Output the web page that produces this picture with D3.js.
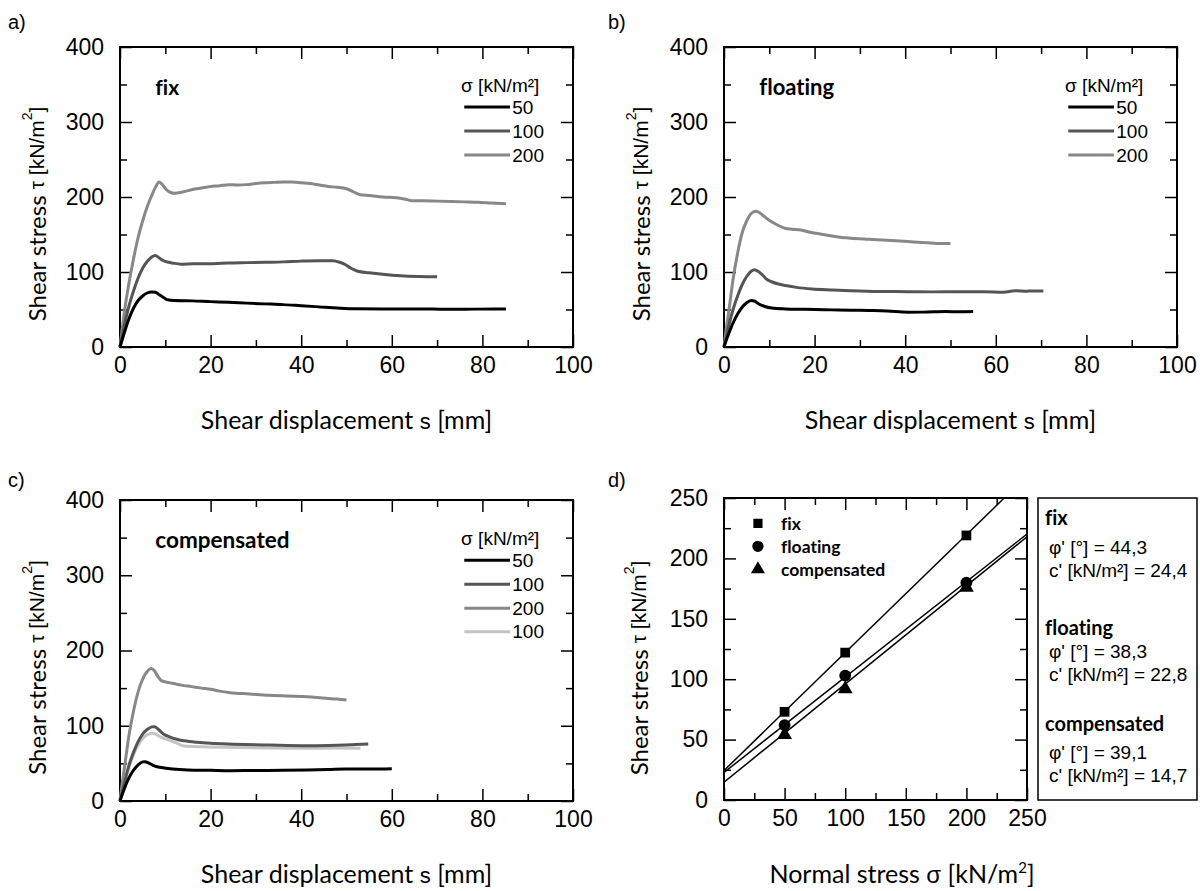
<!DOCTYPE html>
<html>
<head>
<meta charset="utf-8">
<script src="https://cdn.jsdelivr.net/npm/d3@7"></script>
<style>
  body { margin: 0; background: #fff; }
  svg { display: block; }
  text { font-variant-ligatures: none; }
  .tick line { stroke: #000; stroke-width: 1.5; }
  .domain { display: none; }
</style>
</head>
<body>
<div id="chart"></div>
<script>
// shear curves, [displacement mm, shear stress kN/m2]
var fix50 = [[0,0],[0.5,10],[1,20],[2,38],[3,52],[4,62],[5,68],[6,72],[7,73.5],[7.8,73],[8.6,70],[9.6,66],[10.5,63],[12,62],[16,61.5],[20,60.5],[24,59.7],[28,58.5],[32,57.5],[36,56.5],[40,55],[44,53.5],[48,52],[52,51],[58,50.8],[66,50.8],[72,50.3],[78,50.5],[85.2,50.8]];
var fix100 = [[0,0],[0.5,16],[1,30],[2,55],[3,75],[4,92],[5,105],[6,114],[7,120],[7.8,122],[8.6,119],[9.6,115],[10.8,113],[12,111.5],[13.5,110.5],[16,111],[20,111],[24,112],[28,112.5],[32,113],[36,113.5],[40,114.5],[44,115],[47,115],[48.5,113],[49.7,110],[51,105],[52.5,101],[55,99],[58,97],[62,95],[66,94],[70,93.5]];
var fix200 = [[0,0],[0.5,25],[1,48],[2,86],[3,118],[4,146],[5,168],[6,187],[7,202],[8,215],[8.6,220],[9.3,217],[10.2,210],[11.2,206],[12,205],[14,207],[16,210],[18,212],[20,214],[22,215],[24,216.5],[26,216],[28,216.5],[30,218],[32,219],[34,219.5],[36,220],[38,220],[40,219],[42,218],[44,216],[46,214],[48,213],[50,211],[51.5,207],[53,203],[55,202],[58,200],[61,199],[63,197],[64.5,195],[67,195],[70,194.5],[73,194],[76,193.5],[79,193],[82,192],[85.2,191]];

var float50 = [[0,0],[0.5,9],[1,17],[2,32],[3,44],[4,53],[5,59],[6,62],[6.8,61],[7.8,57],[9,54],[10.5,52],[13.6,50.8],[18,50.2],[23.8,49.5],[28,49],[32.2,48.6],[36,48],[40.6,46.4],[44,46.5],[49,47.3],[52,47],[55,47.3]];
var float100 = [[0,0],[0.5,14],[1,27],[2,50],[3,68],[4,83],[5,94],[6,101],[6.7,103],[7.5,101],[8.5,96],[9.5,90],[10.5,87],[12,84],[13.6,82],[16,79.5],[19.5,77.3],[24,76],[28,75],[34,74],[40.6,73.8],[46,73.5],[52,73.8],[57.5,73.8],[61.7,73],[64.2,75],[67,74.5],[70.5,74.7]];
var float200 = [[0,0],[0.5,24],[1,45],[2,90],[3,125],[4,152],[5,168],[6,178],[7,181],[7.6,180],[8.5,176],[9.5,171],[10.8,166],[12,162],[13.6,158],[15,157],[17,156],[19,153],[21,151],[23.8,148],[26,146],[28,145],[32,143.6],[36,142.3],[40.6,140.6],[44.8,139],[47,138],[50,138]];

var comp50 = [[0,0],[0.5,9],[1,17],[2,31],[3,41],[4,48],[5,52],[5.5,52.3],[6.5,50],[7.3,47.5],[8.2,45.6],[9.8,43.8],[11.6,42.5],[15,41.3],[20,40.8],[24.3,40.3],[30,40.6],[36,40.8],[41.3,41.2],[46,41.8],[49.7,42.5],[55,42.5],[60,43]];
var comp100 = [[0,0],[0.5,13],[1,25],[2,48],[3,65],[4,79],[5,89],[6,95],[7,98.5],[7.6,98.8],[8.5,95],[9.6,89],[10.8,85.5],[12.5,82],[14.2,80],[17,78],[20,76.6],[25,75.5],[32.8,74.4],[41.3,73.5],[46,73.8],[49.7,74.4],[52,75],[54.8,75.7]];
var comp200 = [[0,0],[0.5,24],[1,45],[2,88],[3,120],[4,145],[5,162],[6,172],[6.9,176],[7.6,173],[8.3,166],[9.1,160],[10.2,158],[11.6,156.4],[13.5,154],[15.8,152],[18,150],[20,148.4],[22,146],[24.3,144],[28.6,142.2],[32.8,140.4],[37,139.5],[41.3,138.6],[45.5,136.4],[48,135.5],[50,134.2]];
var comp100b = [[0,0],[0.5,12],[1,24],[2,45],[3,62],[4,74],[5,83],[6,88],[7,90],[7.8,89],[9,85],[10.8,81],[12.5,77],[14.2,73],[18,72],[24.3,71.3],[32,70.5],[41.3,70],[47,70.3],[53.1,70]];

// failure envelope (panel d)
var normalStress = [50, 100, 200];
var fixPeak = [73, 122, 219];
var floatPeak = [62, 103, 180];
var compPeak = [54, 92, 176];
var fixLine = [[0,24.4],[231.2,250]];
var floatLine = [[0,22.8],[250,220.2]];
var compLine = [[0,14.7],[250,217.9]];

var boxNames = ["fix", "floating", "compensated"];
var phiValues = ["44,3", "38,3", "39,1"];
var cValues = ["24,4", "22,8", "14,7"];

var sTicks = [0, 20, 40, 60, 80, 100];
var sMinor = [10, 30, 50, 70, 90];
var tauTicks = [0, 100, 200, 300, 400];
var tauMinor = [50, 150, 250, 350];
var dTicks = [0, 50, 100, 150, 200, 250];
var dMinor = [25, 75, 125, 175, 225];

var black = "#000", dark = "#555", mid = "#888", light = "#c4c4c4";

var width = 1200, height = 891;
var svg = d3.select("#chart").append("svg")
    .attr("width", width)
    .attr("height", height);

var sans = "Lato, 'Open Sans', sans-serif";
var arial = "'Liberation Sans', Arial, Helvetica, sans-serif";

function tickText(sel) {
    sel.selectAll("text")
      .style("font-family", arial)
      .style("font-size", "23px")
      .style("fill", "#000");
}

// draws the boxed frame with inward ticks on all four sides
function frame(box, x, y, xt, xm, yt, ym) {
    var g = svg.append("g");
    var bottom = box.y1, top = box.y0, left = box.x0, right = box.x1;

    g.append("g").attr("transform", "translate(0," + bottom + ")")
      .call(d3.axisBottom(x).tickValues(xt).tickSize(-12).tickPadding(10).tickFormat(d3.format("d")))
      .call(tickText);
    g.append("g").attr("transform", "translate(0," + bottom + ")")
      .call(d3.axisBottom(x).tickValues(xm).tickSize(-7).tickFormat(""));
    g.append("g").attr("transform", "translate(0," + top + ")")
      .call(d3.axisTop(x).tickValues(xt).tickSize(-12).tickFormat(""));
    g.append("g").attr("transform", "translate(0," + top + ")")
      .call(d3.axisTop(x).tickValues(xm).tickSize(-7).tickFormat(""));

    g.append("g").attr("transform", "translate(" + left + ",0)")
      .call(d3.axisLeft(y).tickValues(yt).tickSize(-12).tickPadding(16).tickFormat(d3.format("d")))
      .call(tickText);
    g.append("g").attr("transform", "translate(" + left + ",0)")
      .call(d3.axisLeft(y).tickValues(ym).tickSize(-7).tickFormat(""));
    g.append("g").attr("transform", "translate(" + right + ",0)")
      .call(d3.axisRight(y).tickValues(yt).tickSize(-12).tickFormat(""));
    g.append("g").attr("transform", "translate(" + right + ",0)")
      .call(d3.axisRight(y).tickValues(ym).tickSize(-7).tickFormat(""));

    g.append("rect")
      .attr("x", left).attr("y", top)
      .attr("width", right - left).attr("height", bottom - top)
      .attr("fill", "none").attr("stroke", black).attr("stroke-width", 2);
}

function yTitle(cx, cy) {
    var t = svg.append("text")
      .attr("transform", "translate(" + cx + "," + cy + ") rotate(-90)")
      .attr("text-anchor", "middle")
      .attr("dominant-baseline", "central");
    t.append("tspan").attr("font-family", sans).attr("font-size", 24).text("Shear stress  ");
    t.append("tspan").attr("font-family", arial).attr("font-size", 21).text("\u03c4 [kN/m");
    t.append("tspan").attr("font-family", arial).attr("font-size", 14).attr("dy", -9).text("2");
    t.append("tspan").attr("font-family", arial).attr("font-size", 21).attr("dy", 9).text("]");
}

function xTitle(cx, by, parts) {
    var t = svg.append("text")
      .attr("x", cx).attr("y", by)
      .attr("text-anchor", "middle");
    parts.forEach(function(p) {
        var s = t.append("tspan").attr("font-family", p.f).attr("font-size", p.s).text(p.t);
        if (p.dy) s.attr("dy", p.dy);
    });
}

function label(txt, x, y) {
    svg.append("text").attr("x", x).attr("y", y)
      .attr("font-family", arial).attr("font-size", 20).text(txt);
}

var line = d3.line().curve(d3.curveMonotoneX);

// shear curve panels a, b, c
function shearPanel(box, name, nameSize, series, colors, legendVals, legendColors) {
    var x = d3.scaleLinear().domain([0, 100]).range([box.x0, box.x1]);
    var y = d3.scaleLinear().domain([0, 400]).range([box.y1, box.y0]);

    frame(box, x, y, sTicks, sMinor, tauTicks, tauMinor);

    line.x(function(d){ return x(d[0]); }).y(function(d){ return y(d[1]); });

    svg.append("g").selectAll("path")
      .data(series)
      .enter().append("path")
        .attr("d", function(d){ return line(d); })
        .attr("fill", "none")
        .attr("stroke", function(d, i){ return colors[i]; })
        .attr("stroke-width", 3)
        .attr("stroke-linejoin", "round");

    svg.append("text")
      .attr("x", x(7.8)).attr("y", y(347))
      .attr("dominant-baseline", "central")
      .attr("font-family", sans).attr("font-weight", "bold")
      .attr("font-size", nameSize)
      .text(name);

    // legend
    svg.append("text")
      .attr("x", x(75.3)).attr("y", y(349))
      .attr("dominant-baseline", "central")
      .attr("font-family", arial).attr("font-size", 19)
      .text("\u03c3 [kN/m\u00b2]");

    var rows = [320, 288, 256, 225];
    var lg = svg.append("g").selectAll("g")
      .data(legendVals)
      .enter().append("g");
    lg.append("line")
      .attr("x1", x(76)).attr("x2", x(86.1))
      .attr("y1", function(d, i){ return y(rows[i]); })
      .attr("y2", function(d, i){ return y(rows[i]); })
      .attr("stroke", function(d, i){ return legendColors[i]; })
      .attr("stroke-width", 3);
    lg.append("text")
      .attr("x", x(86.6))
      .attr("y", function(d, i){ return y(rows[i]); })
      .attr("dominant-baseline", "central")
      .attr("font-family", arial).attr("font-size", 19)
      .text(function(d){ return d; });

    yTitle(box.x0 - 84, (box.y0 + box.y1) / 2 + 17);
    xTitle((box.x0 + box.x1) / 2, box.y1 + 82, [
        {f: sans, s: 25, t: "Shear displacement "},
        {f: arial, s: 22, t: "s"},
        {f: sans, s: 25, t: " [mm]"}
    ]);
}

var boxA = {x0: 120, x1: 573, y0: 47, y1: 347};
var boxB = {x0: 724, x1: 1177, y0: 47, y1: 347};
var boxC = {x0: 120, x1: 573, y0: 500, y1: 801};
var boxD = {x0: 724, x1: 1027, y0: 498, y1: 800};

shearPanel(boxA, "fix", 21, [fix200, fix100, fix50], [mid, dark, black], [50, 100, 200], [black, dark, mid]);
shearPanel(boxB, "floating", 22, [float200, float100, float50], [mid, dark, black], [50, 100, 200], [black, dark, mid]);
shearPanel(boxC, "compensated", 22.5, [comp200, comp100b, comp100, comp50], [mid, light, dark, black],
    [50, 100, 200, 100], [black, dark, mid, light]);

label("a)", 8, 29);
label("b)", 608, 29);
label("c)", 8, 487);
label("d)", 608, 487);

// panel d - failure envelopes
var xd = d3.scaleLinear().domain([0, 250]).range([boxD.x0, boxD.x1]);
var yd = d3.scaleLinear().domain([0, 250]).range([boxD.y1, boxD.y0]);

frame(boxD, xd, yd, dTicks, dMinor, dTicks, dMinor);

svg.append("clipPath").attr("id", "clipD")
  .append("rect")
    .attr("x", boxD.x0).attr("y", boxD.y0)
    .attr("width", boxD.x1 - boxD.x0).attr("height", boxD.y1 - boxD.y0);

var straight = d3.line().x(function(d){ return xd(d[0]); }).y(function(d){ return yd(d[1]); });
svg.append("g").attr("clip-path", "url(#clipD)")
  .selectAll("path")
  .data([fixLine, floatLine, compLine])
  .enter().append("path")
    .attr("d", straight)
    .attr("fill", "none")
    .attr("stroke", black)
    .attr("stroke-width", 1.5);

var symbols = [d3.symbolSquare, d3.symbolCircle, d3.symbolTriangle];
var sizes = [95, 110, 95];
[fixPeak, floatPeak, compPeak].forEach(function(vals, k) {
    svg.append("g").selectAll("path")
      .data(vals)
      .enter().append("path")
        .attr("transform", function(d, i){ return "translate(" + xd(normalStress[i]) + "," + yd(d) + ")"; })
        .attr("d", d3.symbol().type(symbols[k]).size(sizes[k]))
        .attr("fill", black);
});

// legend inside d
var legRows = [229, 210, 191];
boxNames.forEach(function(n, k) {
    svg.append("path")
      .attr("transform", "translate(" + xd(28) + "," + yd(legRows[k]) + ")")
      .attr("d", d3.symbol().type(symbols[k]).size(sizes[k] - 10))
      .attr("fill", black);
    svg.append("text")
      .attr("x", xd(47)).attr("y", yd(legRows[k]))
      .attr("dominant-baseline", "central")
      .attr("font-family", sans).attr("font-weight", "bold").attr("font-size", 17.5)
      .text(n);
});

yTitle(boxD.x0 - 86, (boxD.y0 + boxD.y1) / 2 + 19);
xTitle(902, boxD.y1 + 83, [
    {f: sans, s: 25, t: "Normal stress "},
    {f: arial, s: 24, t: "\u03c3"},
    {f: sans, s: 25, t: " [kN/m"},
    {f: sans, s: 15, t: "2", dy: -10},
    {f: sans, s: 25, t: "]", dy: 10}
]);

// parameter box
svg.append("rect")
  .attr("x", 1038).attr("y", 498)
  .attr("width", 159).attr("height", 302)
  .attr("fill", "none").attr("stroke", black).attr("stroke-width", 1.5);

var boxRows = [[517, 547, 570], [627, 651, 674], [723, 752, 775]];
boxNames.forEach(function(n, k) {
    var r = boxRows[k];
    svg.append("text")
      .attr("x", 1045).attr("y", r[0])
      .attr("dominant-baseline", "central")
      .attr("font-family", sans).attr("font-weight", "bold").attr("font-size", 20)
      .text(n);
    svg.append("text")
      .attr("x", 1049).attr("y", r[1])
      .attr("dominant-baseline", "central")
      .attr("font-family", arial).attr("font-size", 19)
      .text("\u03c6' [\u00b0] = " + phiValues[k]);
    svg.append("text")
      .attr("x", 1049).attr("y", r[2])
      .attr("dominant-baseline", "central")
      .attr("font-family", arial).attr("font-size", 19)
      .text("c' [kN/m\u00b2] = " + cValues[k]);
});
</script>
</body>
</html>
